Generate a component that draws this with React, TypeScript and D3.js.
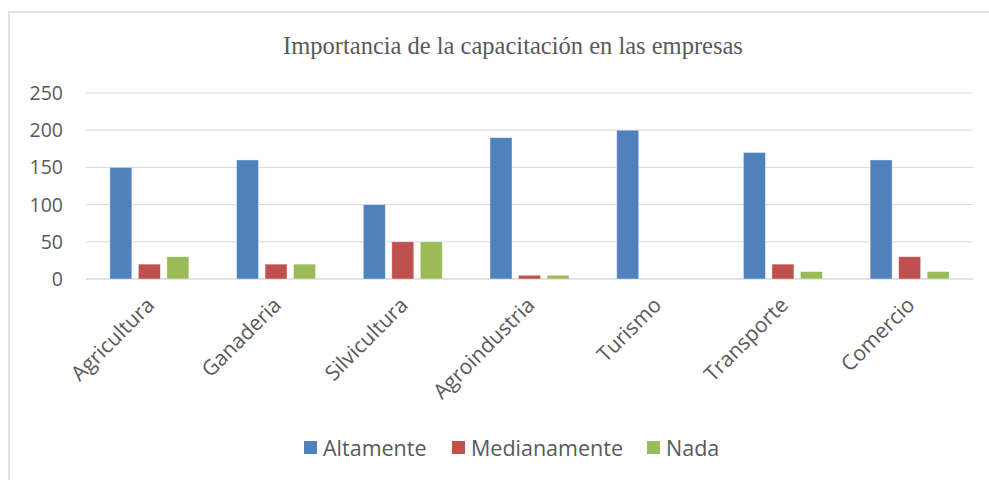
import React from "react";
import * as d3 from "d3";

const categories = ["Agricultura", "Ganaderia", "Silvicultura", "Agroindustria", "Turismo", "Transporte", "Comercio"];
const seriesNames = ["Altamente", "Medianamente", "Nada"];
const altamente = [150, 160, 100, 190, 200, 170, 160];
const medianamente = [20, 20, 50, 5, 0, 20, 30];
const nada = [30, 20, 50, 5, 0, 10, 10];
const yTicks = [0, 50, 100, 150, 200, 250];
const colors = ["#4f81bd", "#c0504d", "#9bbb59"];
const title = "Importancia de la capacitación en las empresas";

export default function App() {
  const W = 989, H = 480;
  const left = 86, right = 973, top = 93, bottom = 279;
  const x = d3.scaleBand<string>().domain(categories).range([left, right]).padding(0);
  const y = d3.scaleLinear().domain([0, 250]).range([bottom, top]);
  const series = [altamente, medianamente, nada];
  const barW = 22, step = 28.5;
  const font = "'Open Sans', sans-serif";
  const textColor = "#595959";
  const legendItems = [
    { x: 304, label: seriesNames[0] },
    { x: 452, label: seriesNames[1] },
    { x: 647, label: seriesNames[2] },
  ];
  return (
    <svg width={W} height={H} style={{ position: "absolute", left: 0, top: 0, background: "#fff" }}>
      <rect x={0} y={0} width={W} height={H} fill="#fff" />
      <rect x={9} y={12} width={W + 20} height={H + 20} fill="#fff" stroke="#d9d9d9" strokeWidth={1.5} />
      <text x={513} y={54} textAnchor="middle" fontFamily="'Liberation Serif', 'Times New Roman', serif" fontSize={24.5} fill={textColor}>
        {title}
      </text>
      {yTicks.map((t) => (
        <g key={t}>
          <line x1={left} x2={right} y1={y(t)} y2={y(t)} stroke="#d9d9d9" strokeWidth={t === 0 ? 1.5 : 1} />
          <text x={63} y={y(t)} dy="0.36em" textAnchor="end" fontFamily={font} fontSize={19.5} fill={textColor}>
            {t}
          </text>
        </g>
      ))}
      {categories.map((c, i) => {
        const cx = (x(c) as number) + x.bandwidth() / 2;
        return (
          <g key={c}>
            {series.map((s, k) => {
              const bx = cx + (k - 1) * step - barW / 2;
              const v = s[i];
              if (v <= 0) return null;
              return (
                <rect key={k} x={bx} y={y(v)} width={barW} height={y(0) - y(v)} fill={colors[k]} stroke="#ffffff" strokeOpacity={0.5} strokeWidth={0.8} />
              );
            })}
            <text
              transform={`translate(${cx - 4},${296}) rotate(-45)`}
              textAnchor="end"
              dy="0.7em"
              fontFamily={font}
              fontSize={21}
              fill={textColor}
            >
              {c}
            </text>
          </g>
        );
      })}
      {legendItems.map((it, k) => (
        <g key={it.label}>
          <rect x={it.x} y={441} width={13} height={13} fill={colors[k]} />
          <text x={it.x + 19} y={448} dy="0.36em" fontFamily={font} fontSize={21.5} fill={textColor}>
            {it.label}
          </text>
        </g>
      ))}
    </svg>
  );
}
